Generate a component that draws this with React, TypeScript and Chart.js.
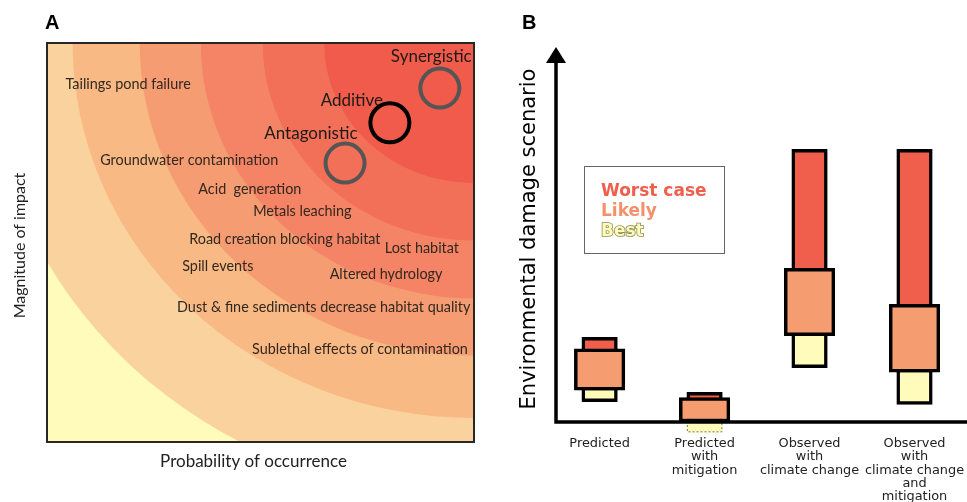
import React, { useEffect, useRef } from 'react';
import { Chart, registerables } from 'chart.js';

Chart.register(...registerables);

// ---------- Panel A data ----------
// risk bands: radii (in axis units, centred on the top-right corner)
const bandRadii = [1.14, 0.94, 0.783, 0.64, 0.495, 0.351];
const riskItems = [
  'Tailings pond failure',
  'Groundwater contamination',
  'Acid  generation',
  'Metals leaching',
  'Road creation blocking habitat',
  'Lost habitat',
  'Spill events',
  'Altered hydrology',
  'Dust & fine sediments decrease habitat quality',
  'Sublethal effects of contamination',
];
const riskProbability = [0.19, 0.333, 0.475, 0.598, 0.557, 0.878, 0.4, 0.794, 0.648, 0.733];
const riskMagnitude = [0.897, 0.707, 0.634, 0.579, 0.509, 0.486, 0.441, 0.421, 0.338, 0.233];

const interactionTypes = ['Synergistic', 'Additive', 'Antagonistic'];
const interactionProbability = [0.92, 0.803, 0.698];
const interactionMagnitude = [0.887, 0.8, 0.699];
const interactionLabelProbability = [0.9, 0.714, 0.618];
const interactionLabelMagnitude = [0.965, 0.857, 0.772];

// ---------- Panel B data ----------
const scenarios = [
  ['Predicted'],
  ['Predicted', 'with', 'mitigation'],
  ['Observed', 'with', 'climate change'],
  ['Observed', 'with', 'climate change', 'and', 'mitigation'],
];
const worstHigh = [22.6, 7.9, 72.7, 72.7];
const likelyHigh = [19.5, 6.5, 41.0, 31.4];
const likelyLow = [8.5, 0, 23.0, 13.3];
const bestLow = [5.4, -2.75, 14.5, 4.7];

// ---------- styles ----------
const BAND_COLORS = ['#F9D29D', '#F8B984', '#F69C73', '#F48465', '#F26F58', '#F05B4B'];
const BASE_COLOR = '#FEFBBB';
const RING_COLORS = ['#555555', '#000000', '#555555'];
const RED = '#F05E4C';
const ORANGE = '#F59C71';
const YELLOW = '#FEFBBB';

function PanelA() {
  const ref = useRef<HTMLCanvasElement>(null);
  useEffect(() => {
    const canvas = ref.current;
    if (!canvas) return;
    const bands = {
      id: 'bands',
      beforeDatasetsDraw(chart: any) {
        const { ctx, chartArea: ca, scales } = chart;
        const x = scales.x;
        const y = scales.y;
        ctx.save();
        ctx.beginPath();
        ctx.rect(ca.left, ca.top, ca.right - ca.left, ca.bottom - ca.top);
        ctx.clip();
        ctx.fillStyle = BASE_COLOR;
        ctx.fillRect(ca.left, ca.top, ca.right - ca.left, ca.bottom - ca.top);
        const cx = x.getPixelForValue(1);
        const cy = y.getPixelForValue(1);
        bandRadii.forEach((r, i) => {
          const rx = cx - x.getPixelForValue(1 - r);
          const ry = y.getPixelForValue(1 - r) - cy;
          ctx.beginPath();
          ctx.ellipse(cx, cy, rx, ry, 0, 0, Math.PI * 2);
          ctx.fillStyle = BAND_COLORS[i];
          ctx.fill();
        });
        ctx.restore();

        ctx.save();
        ctx.textAlign = 'center';
        ctx.textBaseline = 'middle';
        ctx.fillStyle = '#32281f';
        ctx.font = '14.4px Lato';
        riskItems.forEach((t, i) => {
          ctx.fillText(t, x.getPixelForValue(riskProbability[i]), y.getPixelForValue(riskMagnitude[i]));
        });
        ctx.fillStyle = '#1e1a17';
        ctx.font = '17px Lato';
        interactionTypes.forEach((t, i) => {
          ctx.fillText(t, x.getPixelForValue(interactionLabelProbability[i]), y.getPixelForValue(interactionLabelMagnitude[i]));
        });
        ctx.restore();
      },
      afterDraw(chart: any) {
        const { ctx, chartArea: ca } = chart;
        ctx.save();
        ctx.strokeStyle = '#2a2624';
        ctx.lineWidth = 2;
        ctx.strokeRect(ca.left, ca.top, ca.right - ca.left, ca.bottom - ca.top);
        ctx.fillStyle = '#000';
        ctx.font = 'bold 20px "Liberation Sans", Arial, sans-serif';
        ctx.textAlign = 'left';
        ctx.textBaseline = 'alphabetic';
        ctx.fillText('A', ca.left - 2, 29);
        ctx.fillStyle = '#222';
        ctx.textAlign = 'center';
        ctx.textBaseline = 'middle';
        ctx.font = '17px Lato';
        ctx.fillText('Probability of occurrence', (ca.left + ca.right) / 2 - 7, ca.bottom + 20);
        ctx.font = '16px Lato';
        ctx.translate(ca.left - 27, (ca.top + ca.bottom) / 2 + 3);
        ctx.rotate(-Math.PI / 2);
        ctx.fillText('Magnitude of impact', 0, 0);
        ctx.restore();
      },
    };
    const chart = new Chart(canvas, {
      type: 'scatter',
      data: {
        datasets: [
          {
            label: 'Interaction',
            data: interactionTypes.map((_, i) => ({ x: interactionProbability[i], y: interactionMagnitude[i] })),
            pointRadius: 19.5,
            pointBorderWidth: 4,
            pointBorderColor: RING_COLORS,
            pointBackgroundColor: 'rgba(0,0,0,0)',
          },
        ],
      },
      options: {
        responsive: false,
        animation: false,
        events: [],
        layout: { autoPadding: false, padding: { left: 47, top: 43, right: 16, bottom: 60 } },
        scales: {
          x: { type: 'linear', min: 0, max: 1, display: false },
          y: { type: 'linear', min: 0, max: 1, display: false },
        },
        plugins: { legend: { display: false }, tooltip: { enabled: false } },
      },
      plugins: [bands],
    } as any);
    return () => chart.destroy();
  }, []);
  return <canvas ref={ref} width={490} height={502} style={{ position: 'absolute', left: 0, top: 0, display: 'block' }} />;
}

function PanelB() {
  const ref = useRef<HTMLCanvasElement>(null);
  useEffect(() => {
    const canvas = ref.current;
    if (!canvas) return;
    const decor = {
      id: 'decor',
      afterDatasetDraw(chart: any, args: any) {
        if (args.index !== 2) return;
        const { ctx } = chart;
        const el = args.meta.data[1];
        const { x, y, base, width } = el.getProps(['x', 'y', 'base', 'width'], true);
        ctx.save();
        ctx.strokeStyle = '#777';
        ctx.lineWidth = 1;
        ctx.setLineDash([2, 2]);
        ctx.strokeRect(x - width / 2 + 0.5, Math.min(y, base), width - 1, Math.abs(base - y) - 0.5);
        ctx.restore();
      },
      afterDatasetsDraw(chart: any) {
        const { ctx, chartArea: ca, scales } = chart;
        const y0 = scales.y.getPixelForValue(0);
        const ax = ca.left + 1;
        ctx.save();
        ctx.strokeStyle = '#000';
        ctx.fillStyle = '#000';
        ctx.lineWidth = 3.5;
        ctx.beginPath();
        ctx.moveTo(ax - 1.75, y0);
        ctx.lineTo(ca.right, y0);
        ctx.moveTo(ax, y0);
        ctx.lineTo(ax, ca.top + 14);
        ctx.stroke();
        ctx.beginPath();
        ctx.moveTo(ax, ca.top);
        ctx.lineTo(ax + 10, ca.top + 16);
        ctx.lineTo(ax - 10, ca.top + 16);
        ctx.closePath();
        ctx.fill();
        ctx.restore();
      },
      afterDraw(chart: any) {
        const { ctx, chartArea: ca } = chart;
        ctx.save();
        // panel letter
        ctx.fillStyle = '#000';
        ctx.font = 'bold 20px "Liberation Sans", Arial, sans-serif';
        ctx.textAlign = 'left';
        ctx.textBaseline = 'alphabetic';
        ctx.fillText('B', ca.left - 33, 29);
        // y title
        ctx.save();
        ctx.font = '21px "DejaVu Sans"';
        ctx.textAlign = 'center';
        ctx.textBaseline = 'alphabetic';
        ctx.translate(ca.left - 20, 239);
        ctx.rotate(-Math.PI / 2);
        ctx.fillText('Environmental damage scenario', 0, 0);
        ctx.restore();
        // legend
        const bx = ca.left + 29;
        const by = 166;
        ctx.strokeStyle = '#666';
        ctx.lineWidth = 1;
        ctx.strokeRect(bx + 0.5, by + 0.5, 140, 87);
        const order = [1, 0, 2];
        ctx.font = 'bold 17px "DejaVu Sans"';
        ctx.textBaseline = 'middle';
        order.forEach((di, k) => {
          const ds = chart.data.datasets[di];
          const ty = by + 26 + k * 20;
          if (di === 2) {
            ctx.strokeStyle = '#8f8c55';
            ctx.lineWidth = 1.6;
            ctx.strokeText(ds.label, bx + 17, ty);
          }
          ctx.fillStyle = di === 0 ? '#F3926A' : ds.backgroundColor;
          ctx.fillText(ds.label, bx + 17, ty);
        });
        ctx.restore();
      },
    };
    const common = { borderColor: '#000', borderSkipped: false, grouped: false, categoryPercentage: 1, barPercentage: 1 };
    const chart = new Chart(canvas, {
      type: 'bar',
      data: {
        datasets: [
          {
            ...common,
            label: 'Likely',
            data: scenarios.map((_, i) => ({ x: i, y: [likelyLow[i], likelyHigh[i]] })),
            backgroundColor: ORANGE,
            borderWidth: 3.5,
            maxBarThickness: 50.5,
            order: 0,
          },
          {
            ...common,
            label: 'Worst case',
            data: scenarios.map((_, i) => ({ x: i, y: [likelyLow[i], worstHigh[i]] })),
            backgroundColor: RED,
            borderWidth: 3.5,
            maxBarThickness: 35.5,
            order: 1,
          },
          {
            ...common,
            label: 'Best',
            data: scenarios.map((_, i) => ({ x: i, y: [bestLow[i], likelyHigh[i]] })),
            backgroundColor: YELLOW,
            borderWidth: [3.5, 0, 3.5, 3.5],
            maxBarThickness: 35.5,
            order: 2,
          },
        ],
      },
      options: {
        responsive: false,
        animation: false,
        events: [],
        layout: { autoPadding: false, padding: { left: 65, top: 47, right: 0, bottom: 0 } },
        scales: {
          x: {
            type: 'linear',
            offset: false,
            min: -0.425,
            max: 3.5,
            grid: { display: false, drawTicks: false },
            border: { display: false },
            afterBuildTicks: (s: any) => {
              s.ticks = scenarios.map((_, i) => ({ value: i }));
            },
            afterFit: (s: any) => {
              s.height = 65;
            },
            ticks: {
              padding: 0,
              autoSkip: false,
              maxRotation: 0,
              minRotation: 0,
              color: '#222',
              font: { family: '"DejaVu Sans"', size: 12.9, lineHeight: 1.03 },
              callback: (v: any) => scenarios[v] ?? '',
            },
          },
          y: { type: 'linear', display: false, min: -4, max: 100 },
        },
        plugins: { legend: { display: false }, tooltip: { enabled: false } },
      },
      plugins: [decor],
    } as any);
    return () => chart.destroy();
  }, []);
  return <canvas ref={ref} width={477} height={502} style={{ position: 'absolute', left: 490, top: 0, display: 'block' }} />;
}

export default function App() {
  return (
    <div style={{ position: 'fixed', left: 0, top: 0, width: 967, height: 502, overflow: 'hidden', background: '#fff' }}>
      <PanelA />
      <PanelB />
    </div>
  );
}
